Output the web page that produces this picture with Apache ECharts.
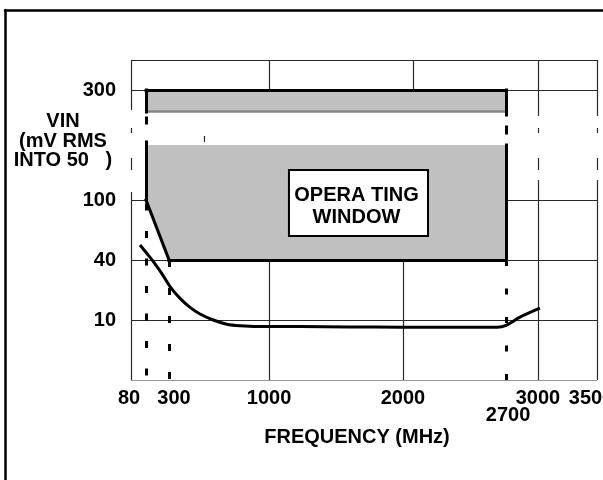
<!DOCTYPE html>
<html><head><meta charset="utf-8">
<script src="https://cdn.jsdelivr.net/npm/echarts@6/dist/echarts.min.js"></script>
<style>html,body{margin:0;padding:0;background:#fff}#c{width:603px;height:480px}</style>
</head><body><div id="c"></div>
<script>
// ---- tick labels (value shown, and where the drawing places each label) ----
const xTickLabels = [80, 300, 1000, 2000, 2700, 3000, 3500];
const xTickLabelAt = [-30, 300, 1000, 2000, 2700, 3000, 3500];
const yTickLabels = [10, 40, 100, 300];

// ---- the drawing's non-uniform axis scales (value -> axis unit) ----
const xScaleMHz  = [-30, 80, 300, 1000, 2000, 2700, 3000, 3500];
const xScaleUnit = [-30, 82, 254, 1000, 2000, 2769, 3007, 3448];
const yScaleMv   = [0, 10, 40, 100, 300, 354.5];
const yScaleUnit = [0, 1, 2, 3, 4.8333, 5.3333];

// ---- minimum input level curve (MHz, mV RMS) ----
const curveMHz = [36, 87, 150, 230, 307, 377, 447, 517, 610, 704, 797, 984, 1231, 1600, 1978, 2400, 2639, 2700, 2831, 3017];
const curveMv  = [55, 46.7, 39.2, 33.3, 26.7, 20.8, 16.3, 13, 10, 9.3, 9.05, 8.9, 8.9, 8.85, 8.8, 8.8, 8.8, 9.1, 11.4, 15.9];

// ---- operating window (MHz, mV) ----
const windowUpperMHz = [80, 2700, 2700, 80];
const windowUpperMv  = [300, 300, 260, 260];
const windowLowerMHz = [80, 2700, 2700, 300, 80];
const windowLowerMv  = [200, 200, 40, 40, 100];
// outline pieces [[MHz,mV],[MHz,mV]]
const windowEdges = [
  [[80,300],[2700,300]],
  [[2700,300],[2700,254.5]], [[2700,232.7],[2700,221.8]], [[2700,200],[2700,40]],
  [[2700,40],[300,40]], [[300,40],[80,100]],
  [[80,100],[80,205.5]], [[80,240],[80,249]], [[80,260],[80,300]]
];
const windowBandEdge = [[[80,261],[2700,261]]];
// frequency limit markers (MHz, from mV down to 0)
const limitMHz = [80, 300, 2700];
const limitFromMv = [100, 40, 40];
// label box
const boxMHz = [1149, 2170];
const boxMv = [154.5, 64];
const boxText = 'OPERA TING\nWINDOW';

// ---- grid lines as drawn (broken in places) ----
const gridH = [ // [mV, fromMHz, toMHz]
  [354.5,-30,3500],[300,-30,80],[300,2700,3500],[100,-30,80],[100,2700,3500],
  [40,-30,3500],[10,-30,3500],[0,-30,3500]
];
const gridV = [ // [MHz, fromMv, toMv]
  [-30,354.5,263.6],[-30,230.9,221.8],[-30,176.4,154.5],[-30,114.5,0],
  [1000,354.5,300],[1000,40,0],[2068,354.5,300],[2000,40,0],
  [3000,354.5,252.7],[3000,230.9,221.8],[3000,176.4,154.5],[3000,136.4,0],
  [3500,354.5,252.7],[3500,230.9,221.8],[3500,176.4,154.5],[3500,136.4,0],
  [545,216.4,205.5]
];

function interp(v, xs, ys) {
  let i = 0;
  while (i < xs.length - 2 && v > xs[i + 1]) i++;
  return ys[i] + (v - xs[i]) * (ys[i + 1] - ys[i]) / (xs[i + 1] - xs[i]);
}
const xU = v => interp(v, xScaleMHz, xScaleUnit);
const yR = v => interp(v, yScaleMv, yScaleUnit);
const P = (f, m) => [xU(f), yR(m)];

const FONT = "'Liberation Sans', Arial, sans-serif";
const FS = 20;
const base = {fontSize: FS, fontWeight: 'bold', fontFamily: FONT, color: '#000'};

const gridSegs = [];
gridH.forEach(([m, a, b]) => gridSegs.push({coords: [P(a, m), P(b, m)]}));
gridV.forEach(([f, a, b]) => gridSegs.push({coords: [P(f, a), P(f, b)]}));

const dashStyles = [
  {type: [7, 20.5], dashOffset: 24},
  {type: [7, 21], dashOffset: 0},
  {type: [6, 22.5], dashOffset: 0}
];

function polySeries(xs, ys, z) {
  const pts = xs.map((x, i) => P(x, ys[i]));
  return {
    type: 'custom', z: z, silent: true, data: [pts[0]],
    renderItem: (params, api) => ({
      type: 'polygon',
      shape: {points: pts.map(p => api.coord(p))},
      style: {fill: '#c0c0c0'}
    })
  };
}

const series = [
  {type: 'lines', coordinateSystem: 'cartesian2d', z: 1, silent: true,
   lineStyle: {color: '#2a2a2a', width: 1.2, opacity: 1}, data: gridSegs},
  polySeries(windowUpperMHz, windowUpperMv, 2),
  polySeries(windowLowerMHz, windowLowerMv, 2),
  {type: 'lines', coordinateSystem: 'cartesian2d', z: 3, silent: true,
   lineStyle: {color: '#858585', width: 2.5, opacity: 1},
   data: windowBandEdge.map(s => ({coords: s.map(p => P(p[0], p[1]))}))},
  {type: 'lines', coordinateSystem: 'cartesian2d', z: 4, silent: true,
   lineStyle: {color: '#000', width: 3, opacity: 1, cap: 'square'},
   data: windowEdges.map(s => ({coords: s.map(p => P(p[0], p[1]))}))}
];
limitMHz.forEach((f, i) => {
  series.push({type: 'lines', coordinateSystem: 'cartesian2d', z: 4, silent: true,
    lineStyle: Object.assign({color: '#000', width: 3, opacity: 1}, dashStyles[i]),
    data: [{coords: [P(f, limitFromMv[i]), P(f, 0)]}]});
});
series.push({
  type: 'line', z: 6, silent: true, symbol: 'none', smooth: 0.35,
  lineStyle: {color: '#000', width: 3},
  data: curveMHz.map((f, i) => P(f, curveMv[i])),
  markArea: {
    silent: true, z: 10,
    itemStyle: {color: '#fff', borderColor: '#000', borderWidth: 2, opacity: 1},
    label: Object.assign({show: true, position: 'inside', formatter: boxText, lineHeight: 22, align: 'center', verticalAlign: 'middle', offset: [-2, 3]}, base),
    data: [[{coord: P(boxMHz[0], boxMv[0])}, {coord: P(boxMHz[1], boxMv[1])}]]
  }
});

const xRich = {
  t: Object.assign({}, base),
  t0: Object.assign({padding: [0, 4, 0, 0]}, base),
  t1: Object.assign({padding: [0, 0, 0, 10]}, base),
  t4: Object.assign({padding: [34, 0, 0, 4]}, base),
  t6: Object.assign({padding: [0, 12, 0, 0]}, base)
};
const xLabelKey = ['t0','t1','t','t','t4','t','t6'];

const option = {
  animation: false,
  backgroundColor: '#fff',
  title: [
    {text: 'FREQUENCY (MHz)', left: 357, top: 427, textAlign: 'center', padding: 0,
     textStyle: Object.assign({lineHeight: 20}, base)},
    {text: 'VIN\n(mV RMS\nINTO 50   )', left: 63, top: 112, textAlign: 'center', padding: 0,
     textStyle: Object.assign({lineHeight: 19.5}, base)}
  ],
  grid: [
    {left: 131, right: 6, top: 60, bottom: 100, containLabel: false, outerBoundsMode: 'none'},
    {left: 5, right: 0, top: 10, bottom: 0, containLabel: false, outerBoundsMode: 'none'}
  ],
  xAxis: [
    {type: 'value', gridIndex: 0, min: xU(-30), max: xU(3500),
     axisLine: {show: false}, axisTick: {show: false}, splitLine: {show: false},
     axisLabel: Object.assign({
       customValues: xTickLabelAt.map(xU), margin: 8, lineHeight: 20,
       showMinLabel: true, showMaxLabel: true, hideOverlap: false,
       formatter: (v) => {
         const i = xTickLabelAt.findIndex(t => Math.abs(xU(t) - v) < 0.01);
         if (i < 0) return '';
         return '{' + xLabelKey[i] + '|' + xTickLabels[i] + '}';
       },
       rich: xRich
     }, base)},
    {type: 'value', gridIndex: 1, position: 'top', min: 0, max: 1,
     axisLine: {show: true, onZero: false, lineStyle: {color: '#000', width: 2.5}},
     axisTick: {show: false}, axisLabel: {show: false}, splitLine: {show: false}}
  ],
  yAxis: [
    {type: 'value', gridIndex: 0, min: 0, max: yR(354.5),
     axisLine: {show: false}, axisTick: {show: false}, splitLine: {show: false},
     axisLabel: Object.assign({
       customValues: yTickLabels.map(yR), margin: 15,
       showMinLabel: true, showMaxLabel: true, hideOverlap: false,
       formatter: (v) => {
         const i = yTickLabels.findIndex(t => Math.abs(yR(t) - v) < 0.001);
         return i < 0 ? '' : String(yTickLabels[i]);
       }
     }, base)},
    {type: 'value', gridIndex: 1, position: 'left', min: 0, max: 1,
     axisLine: {show: true, onZero: false, lineStyle: {color: '#000', width: 2.5}},
     axisTick: {show: false}, axisLabel: {show: false}, splitLine: {show: false}}
  ],
  series: series
};

const chart = echarts.init(document.getElementById('c'), null, {renderer: 'canvas'});
chart.setOption(option);
</script>
</body></html>
